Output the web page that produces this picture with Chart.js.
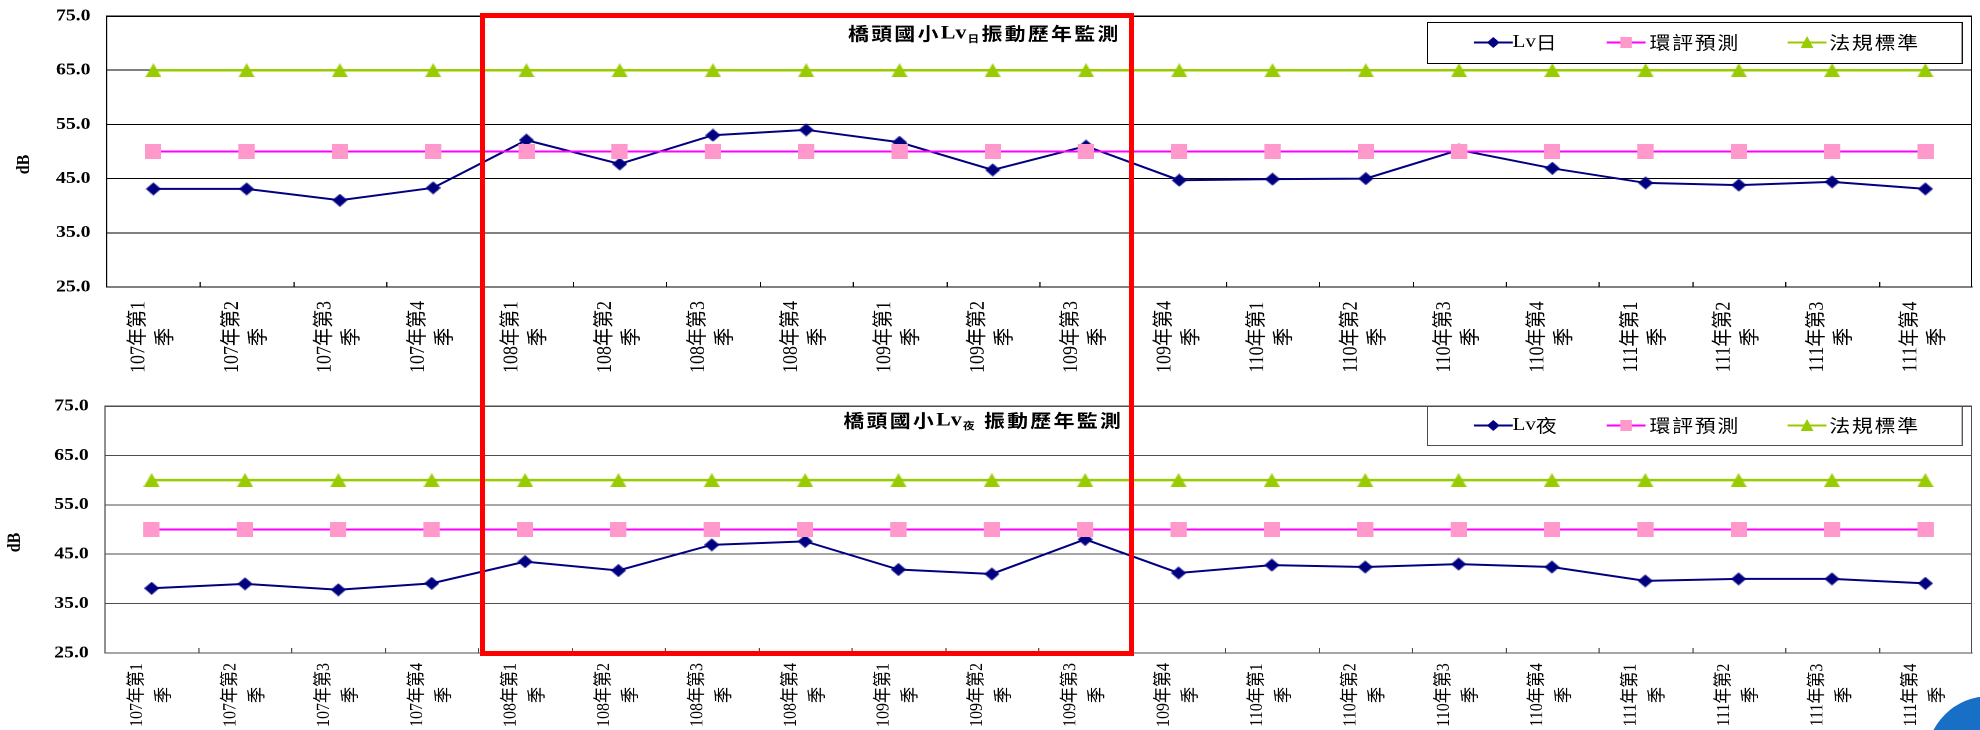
<!DOCTYPE html>
<html>
<head>
<meta charset="utf-8">
<script src="https://cdn.jsdelivr.net/npm/chart.js@4.4.0/dist/chart.umd.min.js"></script>
<style>
  html, body { margin:0; padding:0; background:#fff; }
  body { width:1980px; height:730px; overflow:hidden; position:relative; }
  .wrap { position:absolute; left:0; transform: scaleX(1.16); transform-origin: 0 0; }
  #redbox { position:absolute; left:480px; top:13px; width:654px; height:643px; border:5px solid #ff0000; box-sizing:border-box; z-index:5; pointer-events:none; }
  #dot { position:absolute; left:1926px; top:696px; width:128px; height:128px; border-radius:50%; background:#176fc6; z-index:6; }
</style>
</head>
<body>
<div class="wrap" style="top:0px"><canvas id="c1" width="1707" height="380"></canvas></div>
<div class="wrap" style="top:380px"><canvas id="c2" width="1707" height="350"></canvas></div>
<div id="redbox"></div>
<div id="dot"></div>
<script>
// ---------------- data ----------------
const categories = ['107年第1季','107年第2季','107年第3季','107年第4季',
  '108年第1季','108年第2季','108年第3季','108年第4季',
  '109年第1季','109年第2季','109年第3季','109年第4季',
  '110年第1季','110年第2季','110年第3季','110年第4季',
  '111年第1季','111年第2季','111年第3季','111年第4季'];

const lvDay    = [43.1, 43.1, 41.0, 43.3, 52.1, 47.7, 53.0, 54.0, 51.7, 46.6, 51.0, 44.7, 44.9, 45.0, 50.3, 46.9, 44.2, 43.8, 44.4, 43.1];
const evalDay  = [50, 50, 50, 50, 50, 50, 50, 50, 50, 50, 50, 50, 50, 50, 50, 50, 50, 50, 50, 50];
const stdDay   = [65, 65, 65, 65, 65, 65, 65, 65, 65, 65, 65, 65, 65, 65, 65, 65, 65, 65, 65, 65];

const lvNight   = [38.1, 39.0, 37.8, 39.1, 43.5, 41.7, 46.9, 47.6, 41.9, 41.0, 48.0, 41.2, 42.8, 42.4, 43.0, 42.4, 39.6, 40.0, 40.0, 39.1];
const evalNight = [50, 50, 50, 50, 50, 50, 50, 50, 50, 50, 50, 50, 50, 50, 50, 50, 50, 50, 50, 50];
const stdNight  = [60, 60, 60, 60, 60, 60, 60, 60, 60, 60, 60, 60, 60, 60, 60, 60, 60, 60, 60, 60];

const yTicks = [25, 35, 45, 55, 65, 75];
const yTitle = 'dB';
const legendDay   = ['Lv日', '環評預測', '法規標準'];
const legendNight = ['Lv夜', '環評預測', '法規標準'];
const titleDay   = ['橋頭國小', 'Lv', '日', '振動歷年監測'];
const titleNight = ['橋頭國小', 'Lv', '夜', ' 振動歷年監測'];

// ---------------- styles ----------------
const NAVY = '#000080', MAGENTA = '#ff00ff', PINK = '#ff99cc', GREEN = '#99cc00';
const CJK = '"Noto Sans CJK TC"';
const SERIF = '"Liberation Serif"';

function markerImg(w, h, color, kind) {
  const c = document.createElement('canvas');
  c.width = w; c.height = h;
  const g = c.getContext('2d');
  g.fillStyle = color;
  g.beginPath();
  if (kind === 'tri') {
    g.moveTo(w / 2, 0); g.lineTo(w, h); g.lineTo(0, h);
  } else if (kind === 'dia') {
    g.moveTo(w / 2, 0); g.lineTo(w, h / 2); g.lineTo(w / 2, h); g.lineTo(0, h / 2);
  } else {
    g.rect(0, 0, w, h);
  }
  g.closePath(); g.fill();
  return c;
}
const TRI = markerImg(14, 14, GREEN, 'tri');
const DIA = markerImg(13, 13, NAVY, 'dia');
const SQR = markerImg(14, 15, PINK, 'sq');

function drawSpaced(ctx, text, x, y, spacing) {
  for (const ch of text) {
    ctx.fillText(ch, x, y);
    x += ctx.measureText(ch).width + spacing;
  }
  return x;
}

function legendMarker(ctx, kind, cx, cy) {
  ctx.beginPath();
  if (kind === 0) {
    ctx.fillStyle = NAVY;
    ctx.moveTo(cx - 5.5, cy); ctx.lineTo(cx, cy - 5.5); ctx.lineTo(cx + 5.5, cy); ctx.lineTo(cx, cy + 5.5); ctx.closePath();
    ctx.fill();
  } else if (kind === 1) {
    ctx.fillStyle = PINK;
    ctx.fillRect(cx - 5, cy - 5.5, 10, 11);
  } else {
    ctx.fillStyle = GREEN;
    ctx.moveTo(cx, cy - 6.5); ctx.lineTo(cx + 5.5, cy + 5.5); ctx.lineTo(cx - 5.5, cy + 5.5); ctx.closePath();
    ctx.fill();
  }
}

const decorPlugin = {
  id: 'decor',
  beforeDatasetsDraw(chart, args, o) {
    const {ctx, chartArea: a} = chart;
    const xs = chart.scales.x;
    ctx.save();
    ctx.strokeStyle = o.frame;
    ctx.lineWidth = 1;
    ctx.beginPath();
    ctx.moveTo(a.left, Math.round(a.top) + 0.5);
    ctx.lineTo(Math.round(a.right) - 0.5, Math.round(a.top) + 0.5);
    ctx.lineTo(Math.round(a.right) - 0.5, a.bottom);
    // inward tick marks at category boundaries
    const n = categories.length;
    for (let i = 1; i < n; i++) {
      const px = Math.round((xs.getPixelForTick(i - 1) + xs.getPixelForTick(i)) / 2) + 0.5;
      ctx.moveTo(px, a.bottom);
      ctx.lineTo(px, a.bottom - 5);
    }
    ctx.stroke();
    ctx.restore();
  },
  afterDraw(chart, args, o) {
    const {ctx, chartArea: a} = chart;
    const xs = chart.scales.x;
    ctx.save();
    ctx.fillStyle = '#000';
    // category labels (rotated, two centred lines)
    ctx.font = o.labelSize + 'px ' + SERIF + ', ' + CJK;
    ctx.textAlign = 'center';
    ctx.textBaseline = 'middle';
    categories.forEach((lab, i) => {
      const px = xs.getPixelForTick(i);
      ctx.save();
      ctx.translate(px, a.bottom + o.labelDy);
      ctx.rotate(-Math.PI / 2);
      ctx.fillText(lab.slice(0, -1), 0, -12.5);
      ctx.fillText(lab.slice(-1), 0, 11);
      ctx.restore();
    });
    // y-axis title
    ctx.save();
    ctx.font = 'bold 16px ' + SERIF;
    ctx.translate(o.dbX, (a.top + a.bottom) / 2 + 13);
    ctx.rotate(-Math.PI / 2);
    ctx.fillText(yTitle, 0, 0);
    ctx.restore();
    // title
    ctx.textAlign = 'left';
    ctx.textBaseline = 'middle';
    let tx = o.titleX;
    const ty = o.titleY;
    const t = o.title;
    ctx.font = 'bold 18px ' + CJK;
    tx = drawSpaced(ctx, t[0], tx, ty, 2);
    ctx.font = 'bold 19px ' + SERIF;
    tx = drawSpaced(ctx, t[1], tx, ty, 0);
    ctx.font = 'bold 10px ' + CJK;
    tx = drawSpaced(ctx, t[2], tx + 1, ty + 5, 0);
    ctx.font = 'bold 18px ' + CJK;
    drawSpaced(ctx, t[3], tx + 2, ty, 2);
    // legend
    const bx0 = a.right - 470, bx1 = a.right - 8.6;
    const by0 = o.legTop, by1 = o.legTop + o.legH;
    ctx.fillStyle = '#fff';
    ctx.fillRect(bx0, by0, bx1 - bx0, by1 - by0);
    ctx.strokeStyle = o.frame;
    ctx.lineWidth = 1;
    ctx.strokeRect(Math.round(bx0) + 0.5, Math.round(by0) + 0.5, Math.round(bx1 - bx0), Math.round(by1 - by0));
    const cy = (by0 + by1) / 2;
    const mStart = [40.5, 155, 311];
    const tStart = [74, 192, 347];
    const lineCols = [NAVY, MAGENTA, GREEN];
    o.legend.forEach((lab, i) => {
      const m0 = bx0 + mStart[i];
      ctx.strokeStyle = lineCols[i];
      ctx.lineWidth = 2;
      ctx.beginPath(); ctx.moveTo(m0, cy); ctx.lineTo(m0 + 33.6, cy); ctx.stroke();
      legendMarker(ctx, i, m0 + 16.8, cy);
      ctx.fillStyle = '#000';
      let x = bx0 + tStart[i];
      if (i === 0) {
        ctx.font = '18px ' + SERIF;
        x = drawSpaced(ctx, lab.slice(0, 2), x, cy, 0);
        ctx.font = '18px ' + CJK;
        drawSpaced(ctx, lab.slice(2), x, cy, 1);
      } else {
        ctx.font = '18px ' + CJK;
        drawSpaced(ctx, lab, x, cy, 1.5);
      }
    });
    ctx.restore();
  }
};

function makeChart(id, lv, ev, st, opts) {
  return new Chart(document.getElementById(id), {
    type: 'line',
    data: {
      labels: categories,
      datasets: [
        { label: opts.legend[0], data: lv, borderColor: NAVY, borderWidth: 2, pointStyle: DIA, pointRadius: 7,
          pointBackgroundColor: NAVY, pointBorderWidth: 0, order: 3, tension: 0 },
        { label: opts.legend[1], data: ev, borderColor: MAGENTA, borderWidth: 2, pointStyle: SQR, pointRadius: 7,
          pointBackgroundColor: PINK, pointBorderWidth: 0, order: 2, tension: 0 },
        { label: opts.legend[2], data: st, borderColor: GREEN, borderWidth: 2.5, pointStyle: TRI, pointRadius: 7,
          pointBackgroundColor: GREEN, pointBorderWidth: 0, order: 1, tension: 0 }
      ]
    },
    options: {
      responsive: false,
      animation: false,
      events: [],
      devicePixelRatio: 2,
      layout: { padding: { top: opts.padTop, right: 3, bottom: 0, left: 0 } },
      plugins: {
        legend: { display: false },
        tooltip: { enabled: false },
        title: { display: false },
        decor: opts
      },
      scales: {
        x: {
          type: 'category',
          offset: true,
          grid: { display: false },
          ticks: { display: false },
          border: { display: true, color: opts.frame, width: 1 },
          afterFit(s) { s.height = opts.xH; }
        },
        y: {
          min: 25, max: 75,
          afterBuildTicks(s) { s.ticks = yTicks.map(v => ({ value: v })); },
          grid: { color: opts.frame, lineWidth: 1, drawTicks: false, tickLength: 0 },
          border: { display: true, color: opts.frame, width: 1 },
          ticks: {
            padding: 14,
            color: '#000',
            font: { family: 'Liberation Serif', size: 17, weight: 'bold' },
            callback: v => Number(v).toFixed(1)
          },
          afterFit(s) { s.width = opts.yW; s.paddingTop = 0; s.paddingBottom = 0; }
        }
      }
    },
    plugins: [decorPlugin]
  });
}

makeChart('c1', lvDay, evalDay, stdDay, {
  legend: legendDay, title: titleDay, frame: '#000',
  padTop: 16, xH: 93, yW: 92, dbX: 20.7, labelDy: 50, labelSize: 18,
  titleX: 731, titleY: 33.5, legTop: 22, legH: 41
});
makeChart('c2', lvNight, evalNight, stdNight, {
  legend: legendNight, title: titleNight, frame: '#4d4d4d',
  padTop: 26, xH: 77, yW: 90.5, dbX: 12.9, labelDy: 42, labelSize: 16,
  titleX: 727, titleY: 40.5, legTop: 26, legH: 39
});
</script>
</body>
</html>
